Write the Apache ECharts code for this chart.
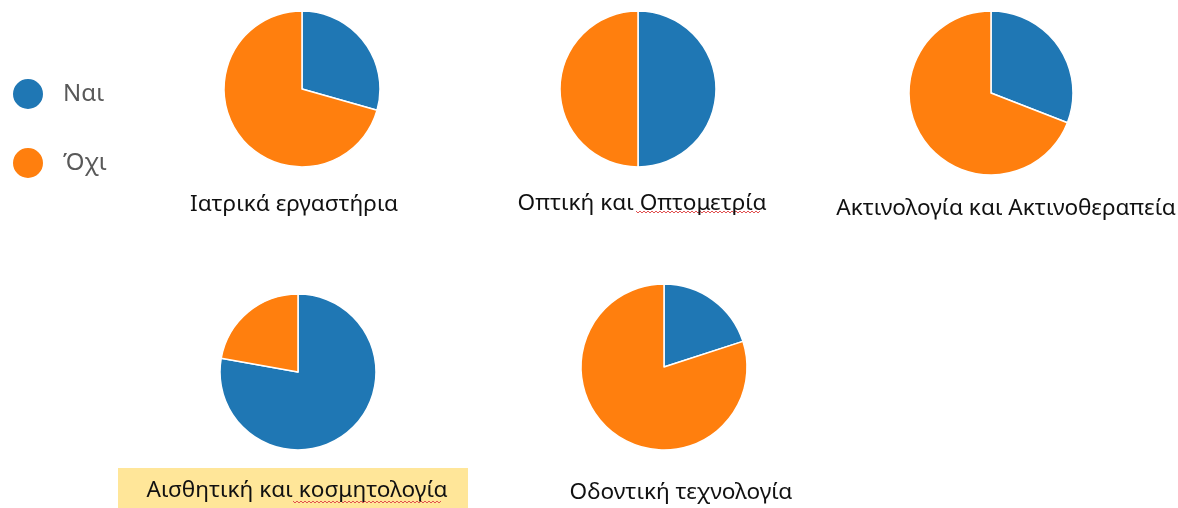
<!DOCTYPE html>
<html>
<head>
<meta charset="utf-8">
<script src="https://cdn.jsdelivr.net/npm/echarts@6/dist/echarts.min.js"></script>
<style>
	html, body { margin: 0; padding: 0; background: #fff; }
	#chart { width: 1178px; height: 508px; }
</style>
</head>
<body>
<div id="chart"></div>
<script>
	// answers and colours
	var answers = ['Ναι', 'Όχι'];
	var colors = ['#1f77b4', '#ff7f0e'];

	// one pie per department, percentages of Ναι / Όχι
	var departments = ['Ιατρικά εργαστήρια', 'Οπτική και Οπτομετρία', 'Ακτινολογία και Ακτινοθεραπεία', 'Αισθητική και κοσμητολογία', 'Οδοντική τεχνολογία'];
	var yesValues = [29.4, 50, 30.9, 77.8, 20];
	var noValues = [70.6, 50, 69.1, 22.2, 80];

	// layout of each pie: center x, center y, radius, title x, title y
	var pieX = [302, 638, 991, 298, 664];
	var pieY = [89, 89, 93, 372, 367];
	var pieR = [78, 78, 82, 78, 83];
	var titleX = [289, 637, 1001, 292, 676];
	var titleY = [188, 187, 192, 474, 476];

	// spell-check squiggles under two words: x from, x to, y
	var squiggles = [[636, 760, 212], [293, 442, 502]];

	var chart = echarts.init(document.getElementById('chart'));

	var series = [];
	var titles = [];
	for (var i = 0; i < departments.length; i++) {
		series.push({
			type: 'pie',
			center: [pieX[i], pieY[i]],
			radius: [0, pieR[i]],
			startAngle: 90,
			clockwise: true,
			label: { show: false },
			labelLine: { show: false },
			emphasis: { disabled: true },
			itemStyle: { borderColor: '#fff', borderWidth: 1.5 },
			data: [
				{ name: answers[0], value: yesValues[i] },
				{ name: answers[1], value: noValues[i] }
			]
		});
		titles.push({
			text: departments[i],
			left: titleX[i],
			top: titleY[i],
			textAlign: 'center',
			textStyle: {
				fontFamily: 'Noto Sans',
				fontSize: 22.6,
				fontWeight: 'normal',
				color: '#111'
			}
		});
	}

	var graphics = [
		{
			type: 'rect',
			z: -1,
			shape: { x: 118, y: 468, width: 350, height: 40 },
			style: { fill: '#ffe699' }
		}
	];
	squiggles.forEach(function (s) {
		var pts = [];
		var k = 0;
		for (var x = s[0]; x <= s[1]; x += 2) {
			pts.push([x, s[2] + (k % 2 === 0 ? -1 : 1)]);
			k++;
		}
		graphics.push({
			type: 'polyline',
			shape: { points: pts },
			style: { stroke: '#e05050', lineWidth: 1, fill: null }
		});
	});

	var option = {
		backgroundColor: '#fff',
		animation: false,
		color: colors,
		title: titles,
		legend: {
			data: answers,
			orient: 'vertical',
			left: 6,
			top: 72,
			icon: 'circle',
			itemWidth: 32,
			itemHeight: 32,
			itemGap: 35,
			selectedMode: false,
			textStyle: { fontFamily: 'Noto Sans', fontSize: 24, color: '#595959', padding: [0, 0, 0, 14] }
		},
		graphic: graphics,
		series: series
	};
	chart.setOption(option);
</script>
</body>
</html>
